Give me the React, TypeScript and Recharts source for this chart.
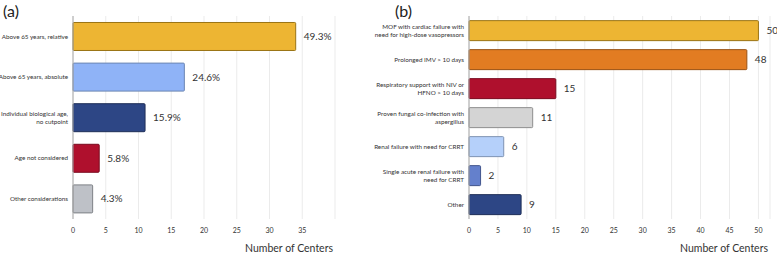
import { BarChart, Bar, XAxis, YAxis, CartesianGrid, Cell, LabelList } from "recharts"

// (a) age criteria
const ageCategories = [
  "Above 65 years, relative",
  "Above 65 years, absolute",
  "Individual biological age,\nno cutpoint",
  "Age not considered",
  "Other considerations",
]
const ageCenters = [34, 17, 11, 4, 3]
const agePercent = ["49.3%", "24.6%", "15.9%", "5.8%", "4.3%"]
const ageColors = ["#EDB533", "#8FB3F7", "#2D4685", "#AF102D", "#BEC1C7"]
const ageStrokes = ["#9A7415", "#6C86B3", "#1F2F58", "#7A0B1F", "#7E8186"]
const ageTicks = [0, 5, 10, 15, 20, 25, 30, 35]

// (b) exclusion criteria
const critCategories = [
  "MOF with cardiac failure with\nneed for high-dose vasopressors",
  "Prolonged IMV > 10 days",
  "Respiratory support with NIV or\nHFNO > 10 days",
  "Proven fungal co-infection with\naspergillus",
  "Renal failure with need for CRRT",
  "Single acute renal failure with\nneed for CRRT",
  "Other",
]
const critCenters = [50, 48, 15, 11, 6, 2, 9]
const critColors = ["#EDB533", "#E27C22", "#AF102D", "#D4D4D4", "#B5D0FA", "#6480CC", "#2D4685"]
const critStrokes = ["#9A7415", "#9A5214", "#7A0B1F", "#8E8E8E", "#7E93B3", "#42558C", "#1F2F58"]
const critTicks = [0, 5, 10, 15, 20, 25, 30, 35, 40, 45, 50]

const FONT = "Lato, 'Open Sans', sans-serif"
const TEXT = "#333"

const MultiLineTick = (props: any) => {
  const { x, y, payload } = props
  const lines = String(payload.value).split("\n")
  const lh = 8
  const start = -((lines.length - 1) * lh) / 2
  return (
    <text x={x} y={y} textAnchor="end" fontSize={6.3} fill={TEXT} fontFamily={FONT}>
      {lines.map((l, i) => (
        <tspan key={i} x={x} dy={i === 0 ? start + 2.3 : lh}>{l}</tspan>
      ))}
    </text>
  )
}

function Panel(props: {
  title: string
  left: number
  titleLeft: number
  width: number
  yWidth: number
  right: number
  max: number
  ticks: number[]
  data: any[]
  fills: string[]
  strokes: string[]
}) {
  const { title, left, titleLeft, width, yWidth, right, max, ticks, data, fills, strokes } = props
  return (
    <div style={{ position: "absolute", left, top: 0, width, height: 254 }}>
      <div style={{ position: "absolute", left: titleLeft, top: 1, fontFamily: FONT, fontSize: 16, color: "#222" }}>{title}</div>
      <BarChart
        width={width}
        height={254}
        data={data}
        layout="vertical"
        margin={{ top: 16, right, bottom: 0, left: 0 }}
        barCategoryGap="16%"
      >
        <CartesianGrid horizontal={false} stroke="#EBEBEB" />
        <XAxis
          type="number"
          domain={[0, max]}
          ticks={ticks}
          axisLine={false}
          tickLine={false}
          tickSize={0}
          tickMargin={9}
          height={35}
          tick={{ fontSize: 7, fill: TEXT, fontFamily: FONT }}
          label={{ value: "Number of Centers", position: "insideBottomRight", offset: 2, fontSize: 10.5, fill: TEXT, fontFamily: FONT }}
        />
        <YAxis
          type="category"
          dataKey="name"
          width={yWidth}
          axisLine={{ stroke: "#A8A8A8" }}
          tickLine={false}
          tickSize={3}
          tickMargin={2}
          interval={0}
          tick={<MultiLineTick />}
        />
        <Bar dataKey="value" isAnimationActive={false} strokeWidth={1} radius={1}>
          {data.map((d, i) => (
            <Cell key={d.name} fill={fills[i]} stroke={strokes[i]} />
          ))}
          <LabelList dataKey="label" position="right" offset={8} fontSize={10} fill={TEXT} fontFamily={FONT} />
        </Bar>
      </BarChart>
    </div>
  )
}

export default function App() {
  const ageData = ageCategories.map((name, i) => ({ name, value: ageCenters[i], label: agePercent[i] }))
  const critData = critCategories.map((name, i) => ({ name, value: critCenters[i], label: critCenters[i] }))

  return (
    <div style={{ position: "fixed", left: 0, top: 0, width: 777, height: 254, background: "#fff" }}>
      <Panel
        title="(a)"
        left={0}
        titleLeft={3}
        width={390}
        yWidth={73}
        right={55}
        max={40}
        ticks={ageTicks}
        data={ageData}
        fills={ageColors}
        strokes={ageStrokes}
      />
      <Panel
        title="(b)"
        left={350}
        titleLeft={45}
        width={427}
        yWidth={119}
        right={7}
        max={52}
        ticks={critTicks}
        data={critData}
        fills={critColors}
        strokes={critStrokes}
      />
    </div>
  )
}
